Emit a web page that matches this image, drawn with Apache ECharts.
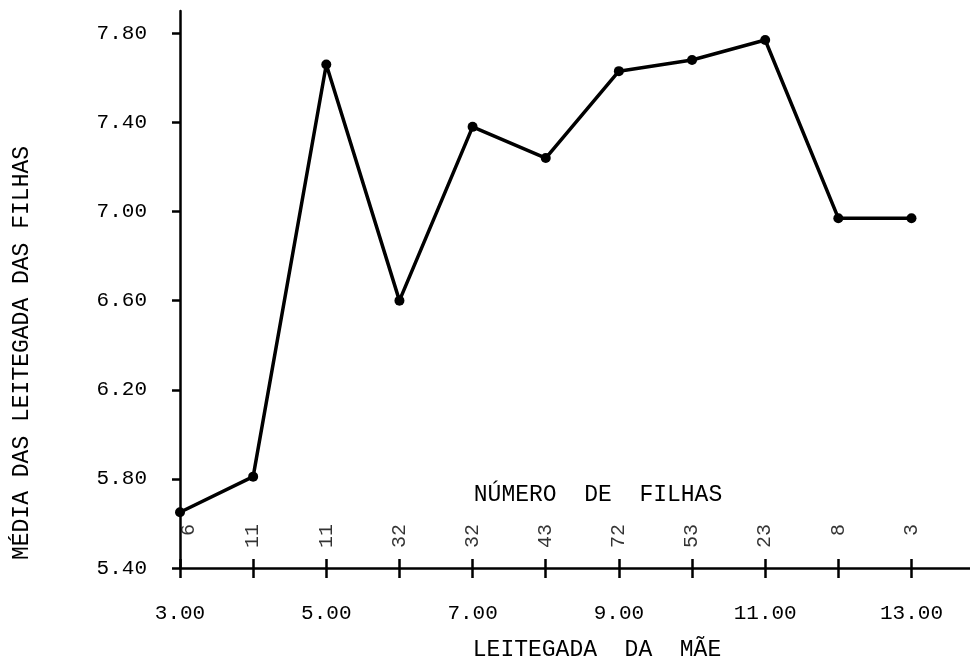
<!DOCTYPE html>
<html>
<head>
<meta charset="utf-8">
<script src="https://cdn.jsdelivr.net/npm/echarts@6/dist/echarts.min.js"></script>
<style>
html,body{margin:0;padding:0;background:#fff;}
#chart{width:970px;height:659px;}
</style>
</head>
<body>
<div id="chart"></div>
<script>
// --- data ---
const leitegadaMae = [3, 4, 5, 6, 7, 8, 9, 10, 11, 12, 13];
const mediaFilhas = [5.65, 5.81, 7.66, 6.60, 7.38, 7.24, 7.63, 7.68, 7.77, 6.97, 6.97];
const numeroFilhas = [6, 11, 11, 32, 32, 43, 72, 53, 23, 8, 3];
const yTickValues = [5.4, 5.8, 6.2, 6.6, 7.0, 7.4, 7.8];
const xTickValues = [3, 4, 5, 6, 7, 8, 9, 10, 11, 12, 13];
const xLabelValues = [3, 5, 7, 9, 11, 13];
const yTitle = 'MÉDIA DAS LEITEGADA DAS FILHAS';
const xTitle = 'LEITEGADA  DA  MÃE';
const countTitle = 'NÚMERO  DE  FILHAS';

// --- layout constants ---
const FONT = '"Liberation Mono", "DejaVu Sans Mono", monospace';
const WEIGHT = 'normal';
const countRowY = 5.598;

const chart = echarts.init(document.getElementById('chart'), null, {renderer: 'canvas'});

const lineData = leitegadaMae.map((x, i) => [x, mediaFilhas[i]]);
const countData = leitegadaMae.map((x, i) => {
  const item = {value: [x, countRowY], count: numeroFilhas[i]};
  if (i === 0) item.label = {offset: [0, 9]};
  return item;
});

const option = {
  backgroundColor: '#ffffff',
  animation: false,
  grid: {left: 180, right: 0, top: 11, bottom: 91, containLabel: false},
  xAxis: [{
    type: 'value', min: 3, max: 13.8,
    axisLine: {show: true, onZero: false, lineStyle: {color: '#000', width: 2.5}},
    axisTick: {show: true, inside: false, length: 10, customValues: xTickValues, lineStyle: {color: '#000', width: 2.5}},
    axisLabel: {show: true, customValues: xLabelValues, margin: 35,
      formatter: v => v.toFixed(2), color: '#000', fontFamily: FONT, fontSize: 21, fontWeight: WEIGHT},
    splitLine: {show: false}
  }, {
    type: 'value', min: 3, max: 13.8, position: 'bottom',
    axisLine: {show: false},
    axisTick: {show: true, inside: true, length: 9, customValues: xTickValues, lineStyle: {color: '#000', width: 2.5}},
    axisLabel: {show: false},
    splitLine: {show: false}
  }],
  yAxis: {
    type: 'value', min: 5.4, max: 7.9,
    axisLine: {show: true, onZero: false, lineStyle: {color: '#000', width: 2.5}},
    axisTick: {show: true, inside: false, length: 8, customValues: yTickValues, lineStyle: {color: '#000', width: 2.5}},
    axisLabel: {show: true, customValues: yTickValues, margin: 33,
      formatter: v => v.toFixed(2), color: '#000', fontFamily: FONT, fontSize: 21, fontWeight: WEIGHT},
    splitLine: {show: false}
  },
  series: [{
    type: 'line',
    data: lineData,
    symbol: 'circle', symbolSize: 10,
    itemStyle: {color: '#000'},
    lineStyle: {color: '#000', width: 3.5},
    z: 5
  }, {
    type: 'scatter',
    data: countData,
    symbolSize: 0,
    silent: true,
    label: {
      show: true, position: [0, 0], rotate: 90,
      align: 'right', verticalAlign: 'middle',
      formatter: p => String(p.data.count),
      color: '#000', fontFamily: FONT, fontSize: 20, fontWeight: WEIGHT
    }
  }],
  graphic: [{
    type: 'text', x: 22, y: 353, rotation: Math.PI / 2,
    style: {text: yTitle, fill: '#000', font: WEIGHT + ' 23px ' + FONT, align: 'center', verticalAlign: 'middle'}
  }, {
    type: 'text', x: 598, y: 495,
    style: {text: countTitle, fill: '#000', font: WEIGHT + ' 23px ' + FONT, align: 'center', verticalAlign: 'middle'}
  }, {
    type: 'text', x: 597, y: 650,
    style: {text: xTitle, fill: '#000', font: WEIGHT + ' 23px ' + FONT, align: 'center', verticalAlign: 'middle'}
  }]
};
chart.setOption(option);
</script>
</body>
</html>
